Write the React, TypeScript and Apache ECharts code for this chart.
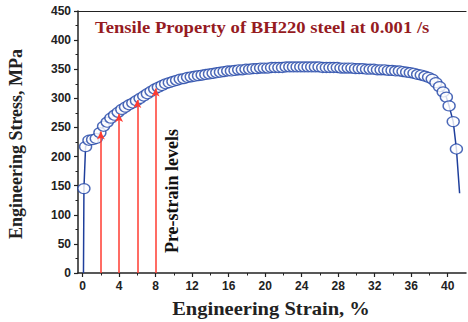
import React, { useEffect, useRef } from "react";
import * as echarts from "echarts";

const strain = [
  0.1, 0.15, 0.33, 0.7, 1.1, 1.5, 1.9, 2.3, 2.7, 3.1,
  3.5, 3.9, 4.3, 4.7, 5.1, 5.5, 5.9, 6.3, 6.7, 7.1,
  7.5, 7.9, 8.3, 8.7, 9.1, 9.5, 9.9, 10.3, 10.7, 11.1,
  11.5, 11.9, 12.3, 12.7, 13.1, 13.5, 13.9, 14.3, 14.7, 15.1,
  15.5, 15.9, 16.3, 16.7, 17.1, 17.5, 17.9, 18.3, 18.7, 19.1,
  19.5, 19.9, 20.3, 20.7, 21.1, 21.5, 21.9, 22.3, 22.7, 23.1,
  23.5, 23.9, 24.3, 24.7, 25.1, 25.5, 25.9, 26.3, 26.7, 27.1,
  27.5, 27.9, 28.3, 28.7, 29.1, 29.5, 29.9, 30.3, 30.7, 31.1,
  31.5, 31.9, 32.3, 32.7, 33.1, 33.5, 33.9, 34.3, 34.7, 35.1,
  35.5, 35.9, 36.3, 36.7, 37.1, 37.5, 37.9, 38.3, 38.7, 39.1,
  39.5, 39.85, 40.15, 40.6, 40.95, 41.3,
];

const stress = [
  0, 145, 217, 228, 229, 231, 241, 252, 259, 266,
  271, 276, 281, 285, 289, 292, 296, 300, 304, 308,
  312, 316, 319, 322, 325, 327, 329, 331, 333, 334,
  336, 337, 338, 339, 340, 341, 342, 343, 344, 345,
  346, 347, 347, 348, 349, 349, 350, 350, 351, 351,
  352, 352, 352, 353, 353, 353, 353, 354, 354, 354,
  354, 354, 354, 354, 354, 354, 354, 353, 353, 353,
  353, 353, 352, 352, 352, 352, 351, 351, 351, 350,
  350, 350, 349, 349, 349, 348, 348, 347, 347, 346,
  345, 344, 343, 341, 340, 338, 336, 333, 327, 320,
  311, 302, 287, 260, 213, 137,
];

const preStrain = [2, 4, 6, 8];
const arrowTop = [243, 273, 297, 317];

const xMajorTicks = [0, 4, 8, 12, 16, 20, 24, 28, 32, 36, 40];
const xMinorTicks = [2, 6, 10, 14, 18, 22, 26, 30, 34, 38];

const titleText = "Tensile Property of BH220 steel at 0.001 /s";
const xName = "Engineering Strain, %";
const yName = "Engineering Stress, MPa";
const noteText = "Pre-strain levels";

export default function App() {
  const ref = useRef<HTMLDivElement>(null);
  useEffect(() => {
    document.body.style.margin = "0";
    if (!ref.current) return;
    const chart = echarts.init(ref.current, null, { renderer: "svg" });
    const curve = strain.map((s, i) => [s, stress[i]]);
    const markers = curve.slice(1, curve.length - 1);
    const serif = "'Liberation Serif', 'Times New Roman', serif";
    const sans = "'Liberation Sans', Arial, sans-serif";
    const axisColor = "#222";
    const arrowRed = "#ff3b30";
    chart.setOption({
      animation: false,
      backgroundColor: "#fff",
      grid: { left: 78, right: 2, top: 11, bottom: 49 },
      xAxis: [
        {
          type: "value",
          position: "bottom",
          min: -0.5,
          max: 42,
          axisLine: { show: true, onZero: false, lineStyle: { color: axisColor, width: 1.5 } },
          axisTick: { show: true, inside: false, length: 4, customValues: xMajorTicks, lineStyle: { color: axisColor, width: 1.2 } },
          axisLabel: {
            customValues: xMajorTicks,
            margin: 7,
            fontFamily: sans,
            fontWeight: "bold",
            fontSize: 12,
            color: "#222",
          },
          splitLine: { show: false },
        },
        {
          type: "value",
          position: "bottom",
          min: -0.5,
          max: 42,
          axisLine: { show: false },
          axisTick: { show: true, inside: false, length: 2.5, customValues: xMinorTicks, lineStyle: { color: axisColor, width: 1 } },
          axisLabel: { show: false, customValues: xMinorTicks },
          splitLine: { show: false },
        },
        {
          type: "value",
          position: "top",
          min: -0.5,
          max: 42,
          axisLine: { show: true, onZero: false, lineStyle: { color: axisColor, width: 1.2 } },
          axisTick: { show: false },
          axisLabel: { show: false },
          splitLine: { show: false },
        },
      ],
      yAxis: {
        type: "value",
        min: 0,
        max: 450,
        interval: 50,
        axisLine: { show: true, onZero: false, lineStyle: { color: axisColor, width: 1.5 } },
        axisTick: { show: true, inside: false, length: 4, lineStyle: { color: axisColor, width: 1.2 } },
        minorTick: { show: true, splitNumber: 2, length: 2.5, lineStyle: { color: axisColor, width: 1 } },
        axisLabel: {
          margin: 7,
          fontFamily: sans,
          fontWeight: "bold",
          fontSize: 12,
          color: "#222",
        },
        splitLine: { show: false },
        minorSplitLine: { show: false },
      },
      series: [
        {
          type: "line",
          data: curve,
          showSymbol: false,
          symbol: "none",
          lineStyle: { color: "#1f3f9c", width: 1.5 },
          z: 2,
          markLine: {
            silent: true,
            symbol: ["none", "arrow"],
            symbolSize: [6, 8],
            label: { show: false },
            itemStyle: { color: arrowRed },
            lineStyle: { color: arrowRed, width: 1.5, type: "solid", opacity: 1 },
            emphasis: { disabled: true },
            data: preStrain.map((p, i) => [
              { coord: [p, 0], lineStyle: { color: arrowRed }, itemStyle: { color: arrowRed } },
              { coord: [p, arrowTop[i]], itemStyle: { color: arrowRed } },
            ]),
          },
        },
        {
          type: "scatter",
          data: markers,
          symbol: "circle",
          symbolSize: [12, 10],
          itemStyle: { color: "#ffffff", borderColor: "#1f44a6", borderWidth: 1.3 },
          z: 3,
        },
      ],
      graphic: [
        {
          type: "text",
          x: 95,
          y: 27,
          scaleX: 1.13,
          style: {
            text: titleText,
            font: `bold 16.5px ${serif}`,
            fill: "#961b1f",
            textAlign: "left",
            textVerticalAlign: "middle",
          },
        },
        {
          type: "text",
          x: 271,
          y: 309,
          scaleX: 1.14,
          style: {
            text: xName,
            font: `bold 18px ${serif}`,
            fill: "#222",
            textAlign: "center",
            textVerticalAlign: "middle",
          },
        },
        {
          type: "text",
          x: 16,
          y: 144,
          rotation: Math.PI / 2,
          style: {
            text: yName,
            font: `bold 18px ${serif}`,
            fill: "#222",
            textAlign: "center",
            textVerticalAlign: "middle",
          },
        },
        {
          type: "text",
          x: 172,
          y: 191,
          rotation: Math.PI / 2,
          style: {
            text: noteText,
            font: `bold 18px ${serif}`,
            fill: "#111",
            textAlign: "center",
            textVerticalAlign: "middle",
          },
        },
      ],
    });
    return () => chart.dispose();
  }, []);
  return <div ref={ref} style={{ width: 468, height: 322 }} />;
}
